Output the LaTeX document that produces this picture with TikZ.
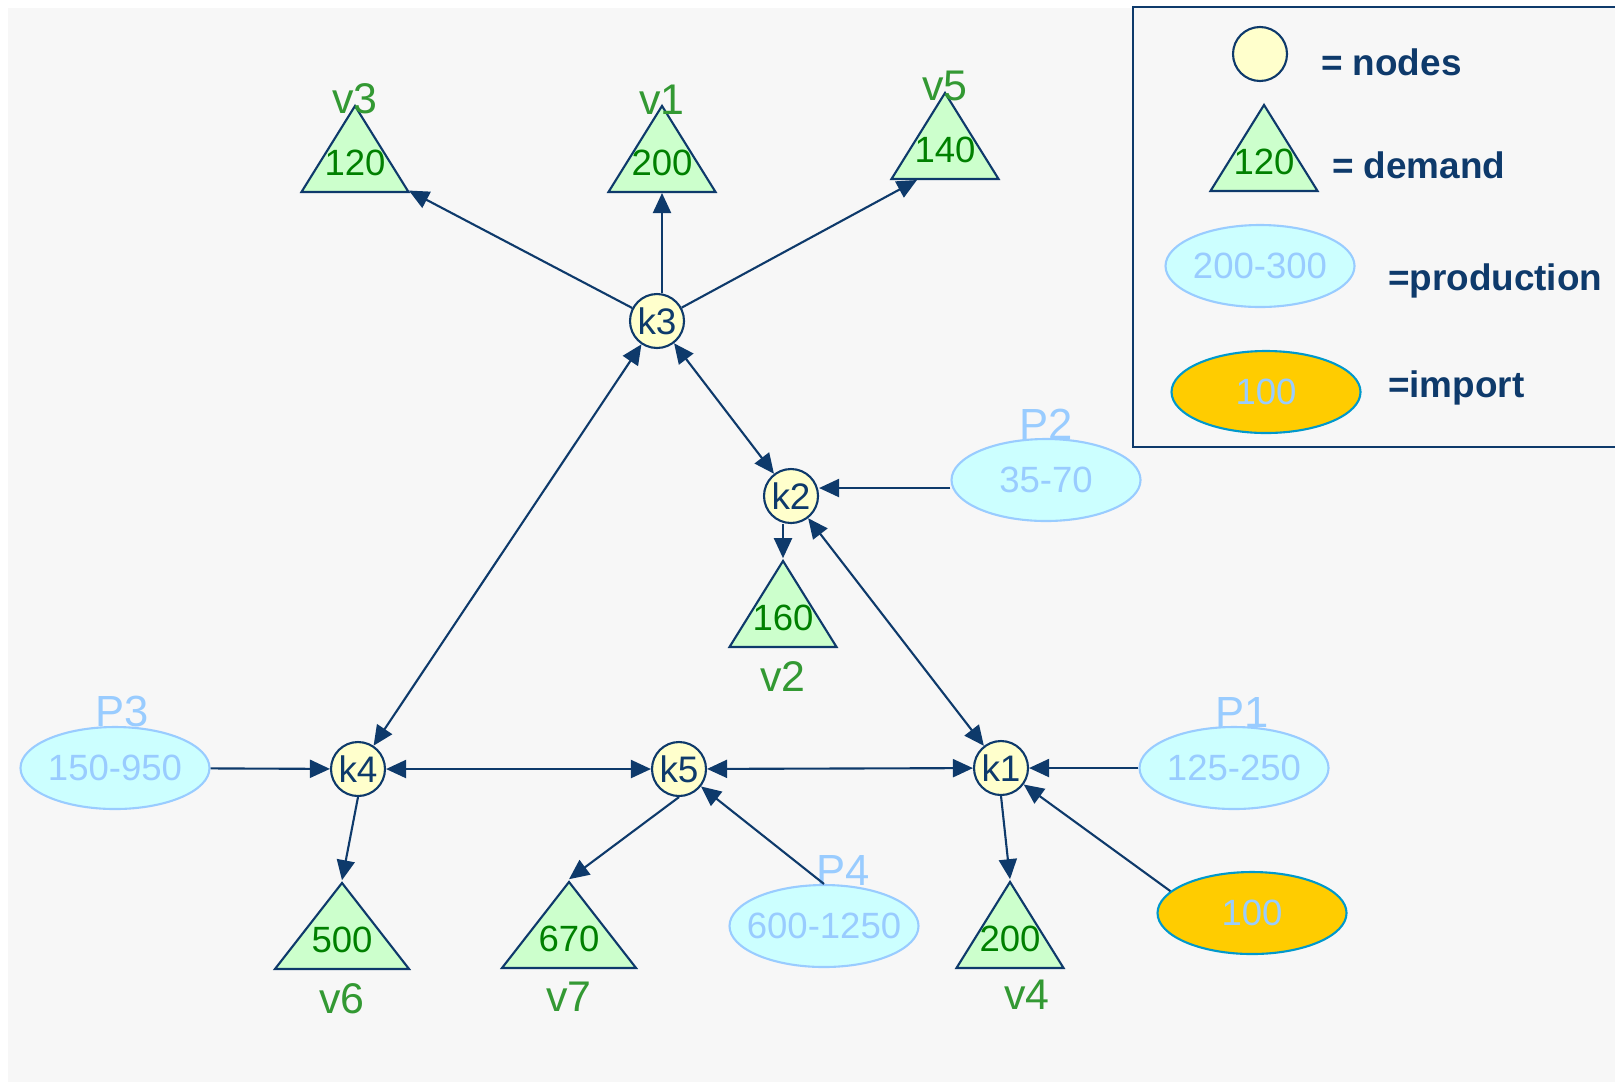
\documentclass[tikz,border=0pt]{standalone}
\usepackage{fontspec}
\setmainfont{Liberation Sans}
\usetikzlibrary{arrows.meta,shapes.geometric}

\definecolor{navy}{RGB}{14,58,107}
\definecolor{bggray}{RGB}{247,247,247}
\definecolor{nodeyellow}{RGB}{255,255,204}
\definecolor{demgreen}{RGB}{204,255,204}
\definecolor{valgreen}{RGB}{0,128,0}
\definecolor{labgreen}{RGB}{51,153,51}
\definecolor{prodfill}{RGB}{204,255,255}
\definecolor{prodblue}{RGB}{153,204,255}
\definecolor{impfill}{RGB}{255,204,0}
\definecolor{impline}{RGB}{0,153,204}

\tikzset{
    knode/.style={circle, draw=navy, fill=nodeyellow, text=navy, inner sep=0pt,
        minimum size=0.54cm, font=\fontsize{10.5}{12}\selectfont},
    valtext/.style={anchor=base, yshift=0.18cm, inner sep=0pt, text=valgreen,
        font=\fontsize{10.4}{12}\selectfont},
    demand/.style={isosceles triangle, shape border rotate=90,
        isosceles triangle stretches, minimum width=1.07cm, minimum height=0.86cm,
        inner sep=0pt, anchor=south, draw=navy, fill=demgreen,
        label={[valtext]south:#1}},
    wide/.style={minimum width=1.34cm},
    vlabel/.style={text=labgreen, inner sep=0pt, font=\fontsize{12.2}{14}\selectfont},
    prod/.style={ellipse, draw=prodblue, fill=prodfill, text=prodblue,
        inner ysep=0pt, inner xsep=-0.12cm,
        minimum width=1.89cm, minimum height=0.82cm, font=\fontsize{10.4}{12}\selectfont},
    plabel/.style={text=prodblue, inner sep=0pt, font=\fontsize{12.4}{14}\selectfont},
    impnode/.style={prod, draw=impline, fill=impfill},
    legtext/.style={text=navy, inner sep=0pt, anchor=base west,
        font=\fontsize{10.5}{12}\selectfont\bfseries}
}

\begin{document}
\begin{tikzpicture}[>={Triangle[length=0.2cm,width=0.18cm]}, line width=0.6pt, color=navy]
    \useasboundingbox (0,0) rectangle (16.15,-10.85);
    \fill[bggray] (0.08,-0.08) rectangle (16.15,-10.82);

    % legend
    \draw (11.33,-0.07) rectangle (16.25,-4.47);
    \node[knode] (lnode) at (12.60,-0.54) {};
    \node[legtext] at (13.20,-0.75) {= nodes};
    \node[demand=120] (ldemand) at (12.64,-1.92) {};
    \node[legtext] at (13.31,-1.78) {= demand};
    \node[prod] (lprod) at (12.60,-2.66) {200-300};
    \node[legtext] at (13.87,-2.90) {=production};
    \node[impnode] (limp) at (12.66,-3.92) {100};
    \node[legtext] at (13.87,-3.97) {=import};

    % network nodes
    \node[knode] (k3) at (6.57,-3.21) {k3};
    \node[knode] (k2) at (7.91,-4.96) {k2};
    \node[knode] (k1) at (10.01,-7.68) {k1};
    \node[knode] (k5) at (6.79,-7.69) {k5};
    \node[knode] (k4) at (3.58,-7.69) {k4};

    % demand
    \node[demand=120, label={[vlabel, label distance=-0.12cm]above:v3}] (v3) at (3.55,-1.93) {};
    \node[demand=200, label={[vlabel, label distance=-0.12cm]above:v1}] (v1) at (6.62,-1.93) {};
    \node[demand=140, label={[vlabel, label distance=-0.12cm]above:v5}] (v5) at (9.45,-1.80) {};
    \node[demand=160, label={[vlabel, label distance=0.12cm]below:v2}] (v2) at (7.83,-6.48) {};
    \node[demand=500, wide, label={[vlabel, label distance=0.12cm]below:v6}] (v6) at (3.42,-9.70) {};
    \node[demand=670, wide, label={[vlabel, label distance=0.12cm]below:v7}] (v7) at (5.69,-9.69) {};
    \node[demand=200, label={[vlabel, label distance=0.10cm, xshift=0.17cm]below:v4}] (v4) at (10.10,-9.69) {};

    % production and import
    \node[prod, label={[plabel, label distance=-0.025cm, xshift=0.07cm]above:P3}] (P3) at (1.15,-7.68) {150-950};
    \node[prod, label={[plabel, label distance=-0.025cm]above:P2}] (P2) at (10.46,-4.80) {35-70};
    \node[prod, label={[plabel, label distance=-0.025cm, xshift=0.08cm]above:P1}] (P1) at (12.34,-7.68) {125-250};
    \node[prod, label={[plabel, label distance=-0.025cm, xshift=0.19cm]above:P4}] (P4) at (8.24,-9.26) {600-1250};
    \node[impnode] (imp) at (12.52,-9.13) {100};

    \draw[->] (k3) -- (v3);
    \draw[->] (v1 |- k3.north) -- (v1);
    \draw[->] (k3) -- ([xshift=-0.28cm]v5.south);
    \draw[<->] (k3) -- (k2);
    \draw[<->] (k3) -- (k4);
    \draw[->] ([yshift=0.08cm]k2.east -| P2.west) -- ([yshift=0.08cm]k2.east);
    \draw[->] (v2.apex |- k2.south) -- (v2.apex);
    \draw[<->] (k2) -- (k1);
    \draw[->] (P3) -- (k4);
    \draw[<->] (k4) -- (k5);
    \draw[<->] (k5) -- (k1);
    \draw[->] (k4.south) -- (v6.apex);
    \draw[->] (k5.south) -- (v7.apex);
    \draw[->] (P4.north) -- (k5);
    \draw[->] (P1) -- (k1);
    \draw[->] (imp.165) -- (k1);
    \draw[->] (k1.south) -- (v4.apex);
\end{tikzpicture}
\end{document}
